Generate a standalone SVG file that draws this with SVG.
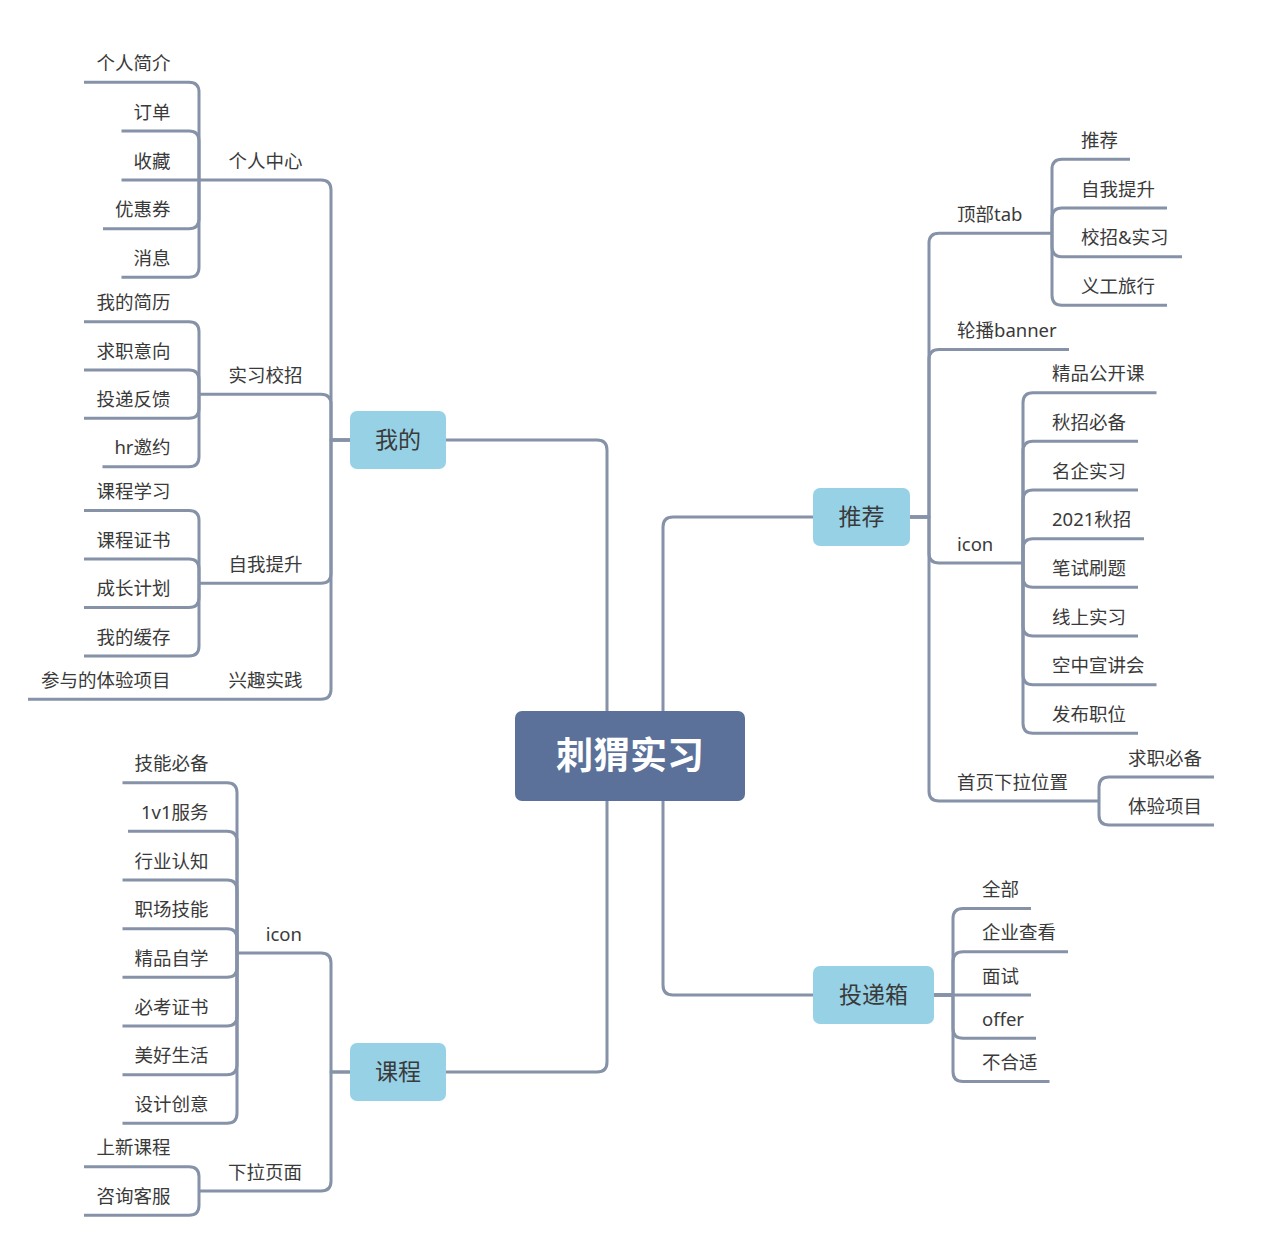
<svg xmlns="http://www.w3.org/2000/svg" width="1280" height="1251" viewBox="0 0 1280 1251">
<style>
.c{fill:none;stroke:#8692a8;stroke-width:3;stroke-linejoin:round}
text{font-family:"Noto Sans","Noto Sans CJK SC","Liberation Sans",sans-serif;fill:#3a3a3a}
.t{font-size:18.5px}
.l{text-anchor:end}
.m{font-size:23px;text-anchor:middle}
.root{font-size:37px;font-weight:bold;fill:#ffffff;text-anchor:middle}
.mb{fill:#96d1e6}
</style>
<rect width="1280" height="1251" fill="#ffffff"/>
<g id="connectors">
<path class="c" d="M607 711 V450 Q607 440 597 440 H446"/>
<path class="c" d="M663 711 V527 Q663 517 673 517 H813"/>
<path class="c" d="M663 801 V985 Q663 995 673 995 H813"/>
<path class="c" d="M607 801 V1062 Q607 1072 597 1072 H446"/>
<path class="c" d="M350 440 H331 V190 Q331 180 321 180 H199"/>
<path class="c" d="M350 440 H331 V404.3 Q331 394.3 321 394.3 H199"/>
<path class="c" d="M350 440 H331 V573.3 Q331 583.3 321 583.3 H199"/>
<path class="c" d="M350 440 H331 V689.3 Q331 699.3 321 699.3 H199"/>
<path class="c" d="M199 180 V92.3 Q199 82.3 189 82.3 H84"/>
<path class="c" d="M199 180 V141 Q199 131 189 131 H121.5"/>
<path class="c" d="M199 180 H121.5"/>
<path class="c" d="M199 180 V218.7 Q199 228.7 189 228.7 H103"/>
<path class="c" d="M199 180 V267.3 Q199 277.3 189 277.3 H121.5"/>
<path class="c" d="M199 394.3 V331.7 Q199 321.7 189 321.7 H84"/>
<path class="c" d="M199 394.3 V380 Q199 370 189 370 H84"/>
<path class="c" d="M199 394.3 V408.3 Q199 418.3 189 418.3 H84"/>
<path class="c" d="M199 394.3 V456.7 Q199 466.7 189 466.7 H102.5"/>
<path class="c" d="M199 583.3 V520.5 Q199 510.5 189 510.5 H84"/>
<path class="c" d="M199 583.3 V569 Q199 559 189 559 H84"/>
<path class="c" d="M199 583.3 V597.5 Q199 607.5 189 607.5 H84"/>
<path class="c" d="M199 583.3 V646 Q199 656 189 656 H84"/>
<path class="c" d="M199 699.3 H28"/>
<path class="c" d="M910 517 H929 V243.3 Q929 233.3 939 233.3 H1052"/>
<path class="c" d="M910 517 H929 V359.5 Q929 349.5 939 349.5 H1069"/>
<path class="c" d="M910 517 H929 V553 Q929 563 939 563 H1023"/>
<path class="c" d="M910 517 H929 V791 Q929 801 939 801 H1099"/>
<path class="c" d="M1052 233.3 V169.3 Q1052 159.3 1062 159.3 H1130"/>
<path class="c" d="M1052 233.3 V218 Q1052 208 1062 208 H1167"/>
<path class="c" d="M1052 233.3 V246.7 Q1052 256.7 1062 256.7 H1182"/>
<path class="c" d="M1052 233.3 V295.3 Q1052 305.3 1062 305.3 H1167"/>
<path class="c" d="M1023 563 V402.7 Q1023 392.7 1033 392.7 H1156.5"/>
<path class="c" d="M1023 563 V451.3 Q1023 441.3 1033 441.3 H1138"/>
<path class="c" d="M1023 563 V500 Q1023 490 1033 490 H1138"/>
<path class="c" d="M1023 563 V548.7 Q1023 538.7 1033 538.7 H1144"/>
<path class="c" d="M1023 563 V577.3 Q1023 587.3 1033 587.3 H1138"/>
<path class="c" d="M1023 563 V626 Q1023 636 1033 636 H1138"/>
<path class="c" d="M1023 563 V674.7 Q1023 684.7 1033 684.7 H1156.5"/>
<path class="c" d="M1023 563 V723.3 Q1023 733.3 1033 733.3 H1138"/>
<path class="c" d="M1099 801 V787 Q1099 777 1109 777 H1214"/>
<path class="c" d="M1099 801 V815 Q1099 825 1109 825 H1214"/>
<path class="c" d="M934 995 H953 V918.4 Q953 908.4 963 908.4 H1031"/>
<path class="c" d="M934 995 H953 V961.7 Q953 951.7 963 951.7 H1068"/>
<path class="c" d="M934 995 H1031"/>
<path class="c" d="M934 995 H953 V1028.3 Q953 1038.3 963 1038.3 H1036"/>
<path class="c" d="M934 995 H953 V1071.6 Q953 1081.6 963 1081.6 H1049.5"/>
<path class="c" d="M350 1072 H331 V963 Q331 953 321 953 H237"/>
<path class="c" d="M350 1072 H331 V1181 Q331 1191 321 1191 H199"/>
<path class="c" d="M237 953 V792.7 Q237 782.7 227 782.7 H122.5"/>
<path class="c" d="M237 953 V841.3 Q237 831.3 227 831.3 H128"/>
<path class="c" d="M237 953 V890 Q237 880 227 880 H122.5"/>
<path class="c" d="M237 953 V938.7 Q237 928.7 227 928.7 H122.5"/>
<path class="c" d="M237 953 V967.3 Q237 977.3 227 977.3 H122.5"/>
<path class="c" d="M237 953 V1016 Q237 1026 227 1026 H122.5"/>
<path class="c" d="M237 953 V1064.7 Q237 1074.7 227 1074.7 H122.5"/>
<path class="c" d="M237 953 V1113.3 Q237 1123.3 227 1123.3 H122.5"/>
<path class="c" d="M199 1191 V1176.7 Q199 1166.7 189 1166.7 H84"/>
<path class="c" d="M199 1191 V1205.3 Q199 1215.3 189 1215.3 H84"/>
</g>
<g id="root"><rect x="515" y="711" width="230" height="90" rx="7" fill="#5b7199"/><text class="root" x="630" y="769">刺猬实习</text></g>
<g id="n-wode"><rect class="mb" x="350" y="411" width="96" height="58" rx="7"/><text class="m" x="398" y="447.5">我的</text></g>
<g id="n-tuijian"><rect class="mb" x="813" y="488" width="97" height="58" rx="7"/><text class="m" x="861.5" y="524.5">推荐</text></g>
<g id="n-toudixiang"><rect class="mb" x="813" y="966" width="121" height="58" rx="7"/><text class="m" x="873.5" y="1002.5">投递箱</text></g>
<g id="n-kecheng"><rect class="mb" x="350" y="1043" width="96" height="58" rx="7"/><text class="m" x="398" y="1079.5">课程</text></g>
<g id="labels" transform="translate(0,-1.5)">
<g id="n-grzx"><text class="t l" x="302.5" y="169">个人中心</text></g>
<g id="n-sxxz"><text class="t l" x="302.5" y="383.3">实习校招</text></g>
<g id="n-zwts"><text class="t l" x="302.5" y="572.3">自我提升</text></g>
<g id="n-xqsj"><text class="t l" x="302.5" y="688.3">兴趣实践</text></g>
<g id="n-grjj"><text class="t l" x="170.5" y="71.3">个人简介</text></g>
<g id="n-dd"><text class="t l" x="170.5" y="120">订单</text></g>
<g id="n-sc"><text class="t l" x="170.5" y="169">收藏</text></g>
<g id="n-yhq"><text class="t l" x="170.5" y="217.7">优惠券</text></g>
<g id="n-xx"><text class="t l" x="170.5" y="266.3">消息</text></g>
<g id="n-wdjl"><text class="t l" x="170.5" y="310.7">我的简历</text></g>
<g id="n-qzyx"><text class="t l" x="170.5" y="359">求职意向</text></g>
<g id="n-tdfk"><text class="t l" x="170.5" y="407.3">投递反馈</text></g>
<g id="n-hryy"><text class="t l" x="170.5" y="455.7">hr邀约</text></g>
<g id="n-kcxx"><text class="t l" x="170.5" y="499.5">课程学习</text></g>
<g id="n-kczs"><text class="t l" x="170.5" y="548">课程证书</text></g>
<g id="n-czjh"><text class="t l" x="170.5" y="596.5">成长计划</text></g>
<g id="n-wdhc"><text class="t l" x="170.5" y="645">我的缓存</text></g>
<g id="n-cytyxm"><text class="t l" x="170.5" y="688.3">参与的体验项目</text></g>
<g id="n-dbtab"><text class="t" x="957" y="222.3">顶部tab</text></g>
<g id="n-lbbanner"><text class="t" x="957" y="338.5">轮播banner</text></g>
<g id="n-icon1"><text class="t" x="957" y="552">icon</text></g>
<g id="n-sxlwz"><text class="t" x="957" y="790">首页下拉位置</text></g>
<g id="n-tj"><text class="t" x="1081" y="148.3">推荐</text></g>
<g id="n-zwts2"><text class="t" x="1081" y="197">自我提升</text></g>
<g id="n-xzsx"><text class="t" x="1081" y="245.7">校招&amp;实习</text></g>
<g id="n-ygly"><text class="t" x="1081" y="294.3">义工旅行</text></g>
<g id="n-jpgkk"><text class="t" x="1052" y="381.7">精品公开课</text></g>
<g id="n-qzbb"><text class="t" x="1052" y="430.3">秋招必备</text></g>
<g id="n-mqsx"><text class="t" x="1052" y="479">名企实习</text></g>
<g id="n-2021qz"><text class="t" x="1052" y="527.7">2021秋招</text></g>
<g id="n-bssj"><text class="t" x="1052" y="576.3">笔试刷题</text></g>
<g id="n-xssx"><text class="t" x="1052" y="625">线上实习</text></g>
<g id="n-kzxjh"><text class="t" x="1052" y="673.7">空中宣讲会</text></g>
<g id="n-fbzw"><text class="t" x="1052" y="722.3">发布职位</text></g>
<g id="n-qzbb2"><text class="t" x="1128" y="766">求职必备</text></g>
<g id="n-tyxm"><text class="t" x="1128" y="814">体验项目</text></g>
<g id="n-qb"><text class="t" x="982" y="897.4">全部</text></g>
<g id="n-qyck"><text class="t" x="982" y="940.7">企业查看</text></g>
<g id="n-ms"><text class="t" x="982" y="984">面试</text></g>
<g id="n-offer"><text class="t" x="982" y="1027.3">offer</text></g>
<g id="n-bhs"><text class="t" x="982" y="1070.6">不合适</text></g>
<g id="n-icon2"><text class="t l" x="302" y="942">icon</text></g>
<g id="n-xlym"><text class="t l" x="302" y="1180">下拉页面</text></g>
<g id="n-jnbb"><text class="t l" x="208.5" y="771.7">技能必备</text></g>
<g id="n-1v1"><text class="t l" x="208.5" y="820.3">1v1服务</text></g>
<g id="n-hyrz"><text class="t l" x="208.5" y="869">行业认知</text></g>
<g id="n-zcjn"><text class="t l" x="208.5" y="917.7">职场技能</text></g>
<g id="n-jpzx"><text class="t l" x="208.5" y="966.3">精品自学</text></g>
<g id="n-bkzs"><text class="t l" x="208.5" y="1015">必考证书</text></g>
<g id="n-mhsh"><text class="t l" x="208.5" y="1063.7">美好生活</text></g>
<g id="n-sjcy"><text class="t l" x="208.5" y="1112.3">设计创意</text></g>
<g id="n-sxkc"><text class="t l" x="170.5" y="1155.7">上新课程</text></g>
<g id="n-zxkf"><text class="t l" x="170.5" y="1204.3">咨询客服</text></g>
</g>
</svg>
